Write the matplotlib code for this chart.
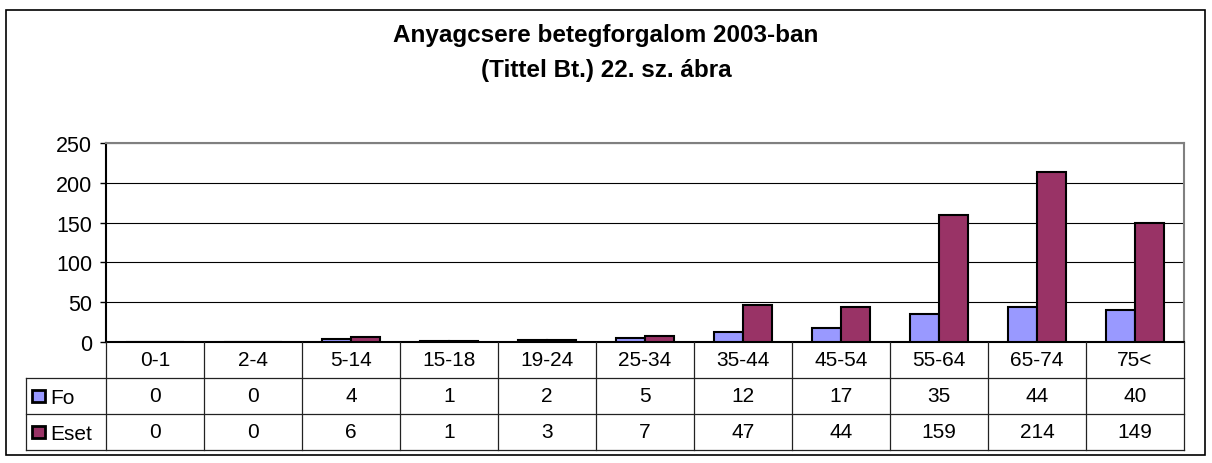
import numpy as np
import matplotlib.pyplot as plt
from matplotlib.patches import Rectangle

plt.rcParams['font.family'] = ['Liberation Sans', 'DejaVu Sans']

categories = ['0-1', '2-4', '5-14', '15-18', '19-24', '25-34', '35-44',
              '45-54', '55-64', '65-74', '75<']
fo = [0, 0, 4, 1, 2, 5, 12, 17, 35, 44, 40]
eset = [0, 0, 6, 1, 3, 7, 47, 44, 159, 214, 149]
series_names = ['Fo', 'Eset']
colors = ['#9999FF', '#993366']

W, H = 1212, 464
fs = 15
fig = plt.figure(figsize=(W / 100, H / 100), dpi=100)

# outer chart frame
fig.add_artist(Rectangle((6 / W, 1 - 456 / H), (1205 - 6) / W, (456 - 11) / H,
                         transform=fig.transFigure, fill=False, lw=1.2, ec='black'))

fig.text(0.5, 1 - 53 / H, 'Anyagcsere betegforgalom 2003-ban\n(Tittel Bt.) 22. sz. ábra',
         ha='center', va='center', fontsize=17.5, fontweight='bold', linespacing=1.7)

# plot area (pixel geometry of the reference)
left, right, top, zero = 106, 1184, 144, 343
ax = fig.add_axes([left / W, 1 - zero / H, (right - left) / W, (zero - top) / H])

x = np.arange(len(categories))
w = 0.3
ax.bar(x - w / 2, fo, w, color=colors[0], edgecolor='black', lw=1.5, zorder=3)
ax.bar(x + w / 2, eset, w, color=colors[1], edgecolor='black', lw=1.5, zorder=3)

ax.set_xlim(-0.5, len(categories) - 0.5)
ax.set_ylim(0, 250)
ax.set_yticks(range(0, 251, 50))
ax.yaxis.grid(True, color='black', lw=0.8, zorder=0)
ax.set_xticks([])
ax.tick_params(axis='y', direction='out', length=4, width=1, labelsize=15.5, pad=6)
for s in ['top', 'right']:
    ax.spines[s].set_color('#808080')
    ax.spines[s].set_linewidth(1.5)
for s in ['left', 'bottom']:
    ax.spines[s].set_color('black')
    ax.spines[s].set_linewidth(1.5)

# data table below the plot
tleft, tbottom = 26, 451
extra = (left - tleft) / ((right - left) / len(categories))
axt = fig.add_axes([tleft / W, 1 - tbottom / H, (right - tleft) / W, (tbottom - zero) / H])
axt.set_xlim(-0.5 - extra, len(categories) - 0.5)
axt.set_ylim(0, 3)
axt.axis('off')

lc = '#222222'
lw = 0.9
x0 = -0.5 - extra
xe = len(categories) - 0.5
for yy in [0, 1, 2]:
    axt.plot([x0, xe], [yy, yy], color=lc, lw=lw, clip_on=False)
axt.plot([x0, x0], [0, 2], color=lc, lw=lw, clip_on=False)
for b in np.arange(len(categories) + 1) - 0.5:
    axt.plot([b, b], [0, 3], color=lc, lw=lw, clip_on=False)

for i, c in enumerate(categories):
    axt.text(i, 2.5, c, ha='center', va='center', fontsize=fs)
    axt.text(i, 1.5, str(fo[i]), ha='center', va='center', fontsize=fs)
    axt.text(i, 0.5, str(eset[i]), ha='center', va='center', fontsize=fs)

for row, (name, col) in enumerate(zip(series_names, colors)):
    yc = 1.5 - row
    axt.add_patch(Rectangle((x0 + 0.065, yc - 0.18), 0.125, 0.36, facecolor=col,
                            edgecolor='black', lw=2, clip_on=False))
    axt.text(x0 + 0.245, yc - 0.03, name, ha='left', va='center', fontsize=fs)

fig.savefig('out.png', dpi=100)
